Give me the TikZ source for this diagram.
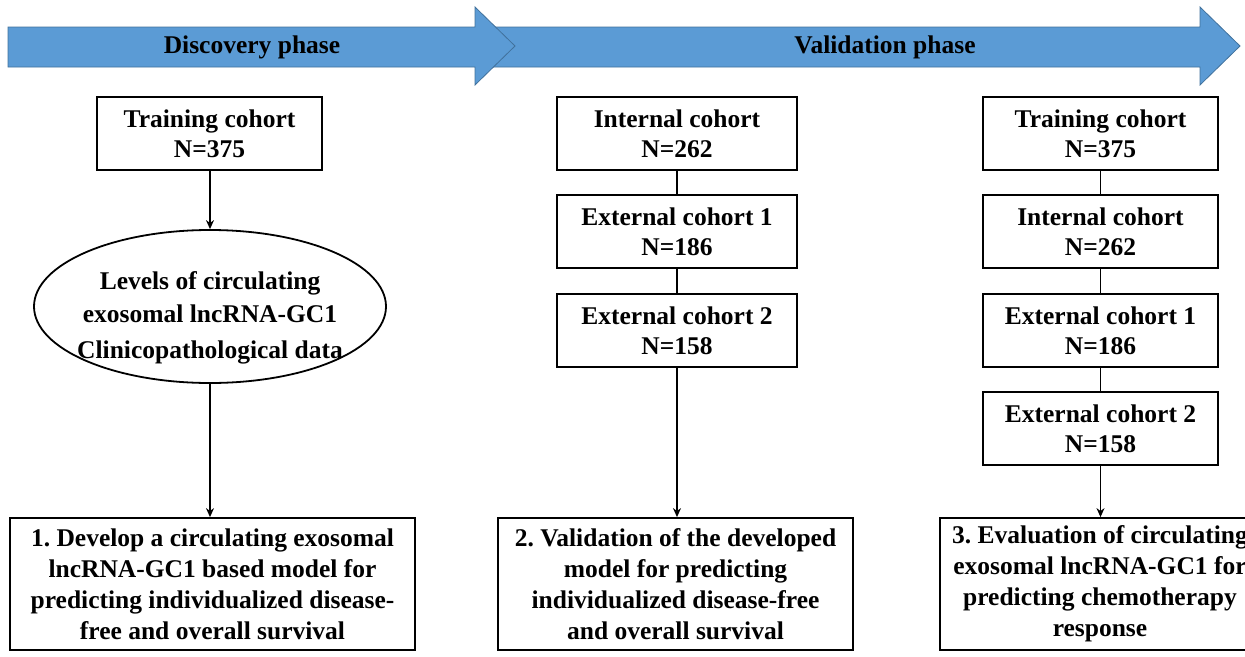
\documentclass[tikz,border=0pt]{standalone}
\usepackage{fontspec}
\setmainfont{Liberation Serif}
\usetikzlibrary{arrows.meta,shapes.geometric}
\definecolor{phaseblue}{HTML}{5B9BD5}
\definecolor{phaseedge}{HTML}{41719C}
\frenchspacing
\tikzset{
  phase/.style={fill=phaseblue,draw=phaseedge,line width=0.8pt},
  phasetxt/.style={font=\fontsize{25.5}{28}\selectfont\bfseries},
  cohort/.style={draw,line width=1.8pt,align=center,inner sep=0pt,minimum height=73pt,
                 font=\fontsize{25.5}{30}\selectfont\bfseries},
  result/.style={draw,line width=1.8pt,align=center,inner sep=0pt,minimum height=132pt,
                 font=\fontsize{25.5}{31}\selectfont\bfseries},
  link/.style={line width=1.2pt},
  arr/.style={line width=1.2pt,-{Stealth[length=9pt,width=8pt]}}
}
\begin{document}
\begin{tikzpicture}[x=1pt,y=-1pt]
\useasboundingbox (0,0) rectangle (1245,656);
% phase arrows
\path[phase] (490,27) -- (1200,27) -- (1200,7) -- (1240,46) -- (1200,85) -- (1200,67) -- (490,67) -- cycle;
\path[phase] (8,27) -- (475,27) -- (475,7) -- (515,46) -- (475,85) -- (475,67) -- (8,67) -- cycle;
\node[phasetxt] (disc) at (252,47) {Discovery phase};
\node[phasetxt] (val) at (885,47) {Validation phase};

% column 1
\node[cohort,minimum width=225pt] (t1) at (209.5,133.5) {Training cohort\\N=375};
\node[draw,ellipse,line width=1.8pt,inner sep=0pt,minimum width=352pt,minimum height=153pt] (ell) at (210,306.5) {};
\node[font=\fontsize{25.5}{33}\selectfont\bfseries,align=center] (elltxt) at (210,297) {Levels of circulating\\exosomal lncRNA-GC1};
\node[font=\fontsize{25.5}{28}\selectfont\bfseries] (elltxt2) at (210,352) {Clinicopathological data};
\node[result,minimum width=405pt] (r1) at (212.5,584) {1. Develop a circulating exosomal\\lncRNA-GC1 based model for\\predicting individualized disease-\\free and overall survival};
\draw[arr] (t1.south -| ell.north) -- (ell.north);
\draw[arr] (ell.south) -- (ell.south |- r1.north);

% column 2
\node[cohort,minimum width=240pt] (i2) at (677,133.5) {Internal cohort\\N=262};
\node[cohort,minimum width=240pt] (e21) at (677,231.5) {External cohort 1\\N=186};
\node[cohort,minimum width=240pt] (e22) at (677,330.5) {External cohort 2\\N=158};
\node[result,minimum width=355pt] (r2) at (675.5,584) {2. Validation of the developed\\model for predicting\\individualized disease-free\\and overall survival};
\draw[link] (i2) -- (e21);
\draw[link] (e21) -- (e22);
\draw[arr] (e22.south) -- (e22.south |- r2.north);

% column 3
\node[cohort,minimum width=235pt] (t3) at (1100.5,133.5) {Training cohort\\N=375};
\node[cohort,minimum width=235pt] (i3) at (1100.5,231.5) {Internal cohort\\N=262};
\node[cohort,minimum width=235pt] (e31) at (1100.5,330.5) {External cohort 1\\N=186};
\node[cohort,minimum width=235pt] (e32) at (1100.5,428.5) {External cohort 2\\N=158};
\node[result,minimum width=320pt] (r3) at (1100,584) {3. Evaluation of circulating\\exosomal lncRNA-GC1 for\\predicting chemotherapy\\response};
\draw[link] (t3) -- (i3);
\draw[link] (i3) -- (e31);
\draw[link] (e31) -- (e32);
\draw[arr] (e32.south) -- (e32.south |- r3.north);
\end{tikzpicture}
\end{document}
